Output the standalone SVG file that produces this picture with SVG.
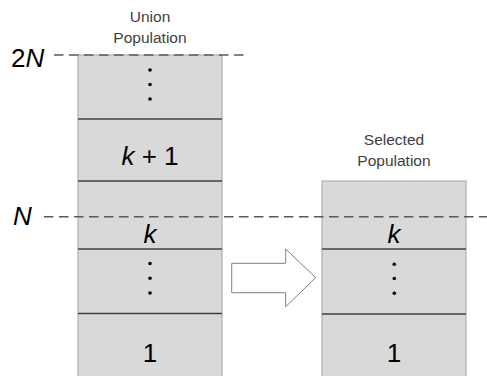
<svg xmlns="http://www.w3.org/2000/svg" width="487" height="376" viewBox="0 0 487 376">
<style>
.col{fill:#d9d9d9;stroke:#a6a6a6;stroke-width:1}
.sep{stroke:#404040;stroke-width:1.5}
.dash{stroke:#595959;stroke-width:1.5;stroke-dasharray:9.5 5.5;fill:none}
.lbl{font-family:"Liberation Sans",Arial,sans-serif;font-size:15.5px;fill:#404040;text-anchor:middle}
.big{font-family:"Liberation Sans",Arial,sans-serif;font-size:26px;fill:#000}
.mid{text-anchor:middle}
.it{font-style:italic}
.dot{fill:#000}
</style>
<rect width="487" height="376" fill="#fff"/>
<g id="union">
<rect class="col" x="78" y="55" width="144" height="330"/>
<line class="sep" x1="78" y1="119" x2="222" y2="119"/>
<line class="sep" x1="78" y1="181" x2="222" y2="181"/>
<line class="sep" x1="78" y1="249" x2="222" y2="249"/>
<line class="sep" x1="78" y1="313.5" x2="222" y2="313.5"/>
<circle class="dot" cx="150" cy="70" r="1.8"/>
<circle class="dot" cx="150" cy="84.5" r="1.8"/>
<circle class="dot" cx="150" cy="99" r="1.8"/>
<text class="big mid" x="150" y="165"><tspan class="it">k</tspan> + 1</text>
<text class="big mid it" x="150" y="243">k</text>
<circle class="dot" cx="150" cy="263.5" r="1.8"/>
<circle class="dot" cx="150" cy="278.3" r="1.8"/>
<circle class="dot" cx="150" cy="293" r="1.8"/>
<text class="big mid" x="150" y="362">1</text>
<text class="lbl" x="150" y="22">Union</text>
<text class="lbl" x="150" y="43">Population</text>
</g>
<g id="selected">
<rect class="col" x="322" y="181" width="144" height="204"/>
<line class="sep" x1="322" y1="249" x2="466" y2="249"/>
<line class="sep" x1="322" y1="314" x2="466" y2="314"/>
<text class="big mid it" x="394" y="243">k</text>
<circle class="dot" cx="394.3" cy="264.3" r="1.8"/>
<circle class="dot" cx="394.3" cy="278.5" r="1.8"/>
<circle class="dot" cx="394.3" cy="293.3" r="1.8"/>
<text class="big mid" x="394" y="362">1</text>
<text class="lbl" x="394" y="145">Selected</text>
<text class="lbl" x="394" y="166">Population</text>
</g>
<g id="levels">
<line class="dash" x1="54" y1="55" x2="248" y2="55"/>
<line class="dash" x1="44" y1="216.7" x2="487" y2="216.7"/>
<text class="big" x="11" y="66.5">2<tspan class="it">N</tspan></text>
<text class="big it" x="13" y="225">N</text>
</g>
<g id="connectors">
<polygon points="231.7,263.3 285.7,263.3 285.7,249 315.7,277.7 285.7,306.7 285.7,292.7 231.7,292.7" fill="#fff" stroke="#7f7f7f" stroke-width="1"/>
</g>
</svg>
